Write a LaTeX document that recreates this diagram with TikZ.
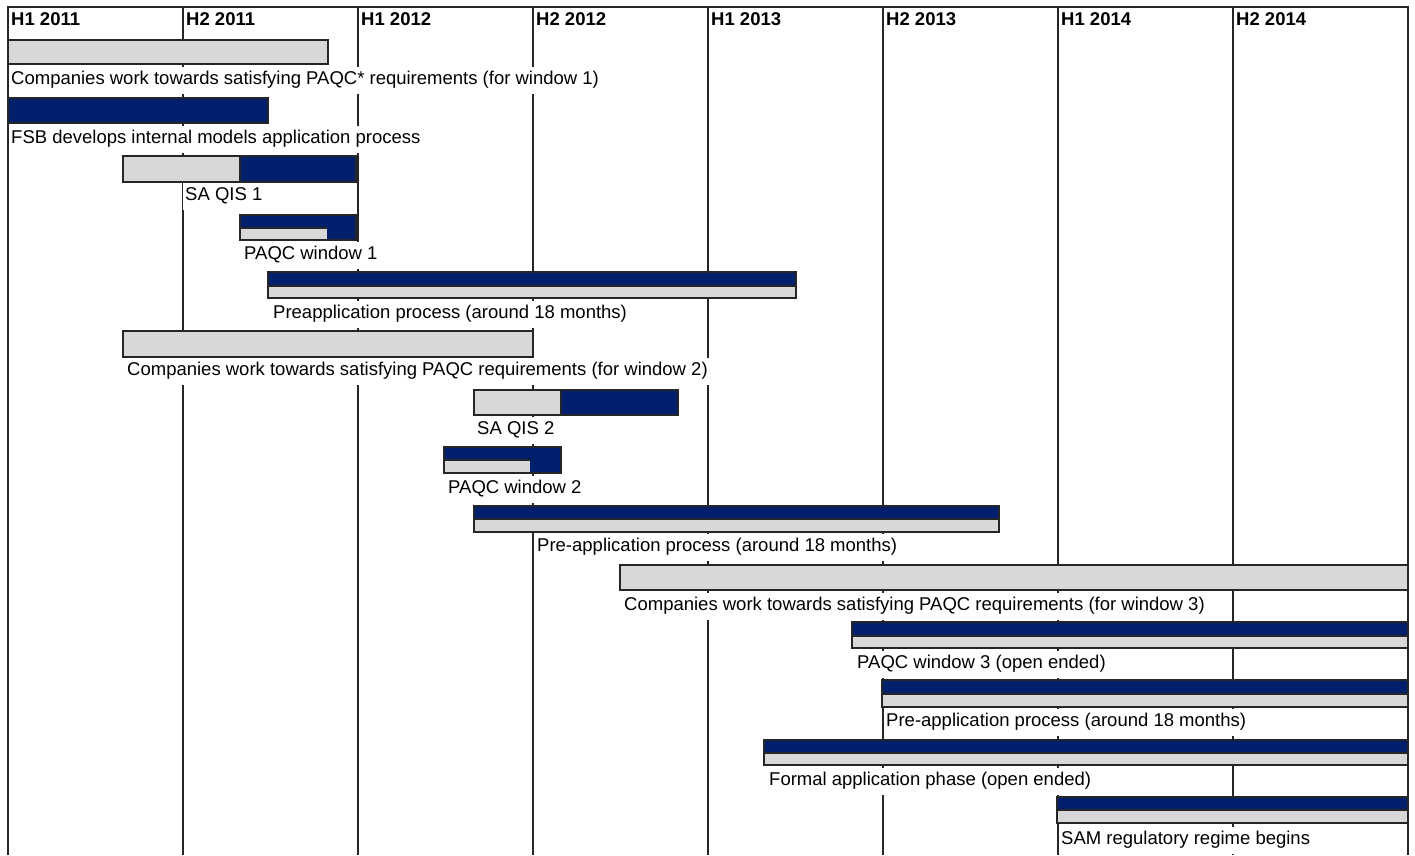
\documentclass[tikz,border=0pt]{standalone}
\usepackage{fontspec}
\setmainfont{Liberation Sans}
\usepackage{xcolor}
\usepackage{tikz}
\definecolor{navy}{RGB}{0,32,110}
\definecolor{lgray}{RGB}{216,216,216}

\begin{document}
\begin{tikzpicture}[
  x=1pt, y=-1pt,
  gline/.style={line width=1.3pt, draw=black!85},
  outl/.style={line width=1.2pt, draw=black!85},
  gbar/.style={fill=lgray},
  bbar/.style={fill=navy},
  lbl/.style={anchor=west, fill=white, inner xsep=2pt, inner ysep=5pt,
              text height=13pt, text depth=4pt, font=\fontsize{18.5}{20}\selectfont},
  hdr/.style={anchor=west, inner sep=0pt, font=\fontsize{18.5}{20}\selectfont\bfseries}
]
  \useasboundingbox (0,0) rectangle (1415,855);
  % Half-year columns and headers
  \draw[gline] (8,855) -- (8,7) -- (1408,7) -- (1408,855);
  \foreach \i/\h in {0/H1 2011, 1/H2 2011, 2/H1 2012, 3/H2 2012,
                     4/H1 2013, 5/H2 2013, 6/H1 2014, 7/H2 2014} {
    \draw[gline] (8+175*\i,7) -- (8+175*\i,855);
    \node[hdr] (h\i) at (11+175*\i,19) {\h};
  }
  % Window 1
  \fill[gbar] (8,40) rectangle (328,64);
  \draw[outl] (8,40) rectangle (328,64);
  \node[lbl] (cw1) at (9,80) {Companies work towards satisfying PAQC* requirements (for window 1)};
  \fill[bbar] (8,98) rectangle (268,123);
  \draw[outl] (8,98) rectangle (268,123);
  \node[lbl] (fsb) at (9,139) {FSB develops internal models application process};
  \fill[gbar] (123,156) rectangle (240,182);
  \fill[bbar] (240,156) rectangle (356,182);
  \draw[outl] (123,156) rectangle (356,182);
  \draw[outl] (240,156) -- (240,182);
  \node[lbl] (qis1) at (183,196) {SA QIS 1};
  \fill[bbar] (240,215) rectangle (356,240);
  \fill[gbar] (240,228) rectangle (327,240);
  \draw[outl] (240,228) -- (327,228);
  \draw[outl] (240,215) rectangle (356,240);
  \node[lbl] (pw1) at (242,255) {PAQC window 1};
  \fill[bbar] (268,272) rectangle (796,286);
  \fill[gbar] (268,286) rectangle (796,298);
  \draw[outl] (268,286) -- (796,286);
  \draw[outl] (268,272) rectangle (796,298);
  \node[lbl] (pre1) at (271,314) {Preapplication process (around 18 months)};
  % Window 2
  \fill[gbar] (123,331) rectangle (533,357);
  \draw[outl] (123,331) rectangle (533,357);
  \node[lbl] (cw2) at (125,371) {Companies work towards satisfying PAQC requirements (for window 2)};
  \fill[gbar] (474,390) rectangle (561,415);
  \fill[bbar] (561,390) rectangle (678,415);
  \draw[outl] (474,390) rectangle (678,415);
  \draw[outl] (561,390) -- (561,415);
  \node[lbl] (qis2) at (475,430) {SA QIS 2};
  \fill[bbar] (444,447) rectangle (561,473);
  \fill[gbar] (444,460) rectangle (530,473);
  \draw[outl] (444,460) -- (530,460);
  \draw[outl] (444,447) rectangle (561,473);
  \node[lbl] (pw2) at (446,489) {PAQC window 2};
  \fill[bbar] (474,506) rectangle (999,519);
  \fill[gbar] (474,519) rectangle (999,532);
  \draw[outl] (474,519) -- (999,519);
  \draw[outl] (474,506) rectangle (999,532);
  \node[lbl] (pre2) at (535,547) {Pre-application process (around 18 months)};
  % Window 3
  \fill[gbar] (620,565) rectangle (1408,590);
  \draw[outl] (620,565) rectangle (1408,590);
  \node[lbl] (cw3) at (622,606) {Companies work towards satisfying PAQC requirements (for window 3)};
  \fill[bbar] (852,622) rectangle (1408,636);
  \fill[gbar] (852,636) rectangle (1408,648);
  \draw[outl] (852,636) -- (1408,636);
  \draw[outl] (852,622) rectangle (1408,648);
  \node[lbl] (pw3) at (855,664) {PAQC window 3 (open ended)};
  \fill[bbar] (882,680) rectangle (1408,694);
  \fill[gbar] (882,694) rectangle (1408,707);
  \draw[outl] (882,694) -- (1408,694);
  \draw[outl] (882,680) rectangle (1408,707);
  \node[lbl] (pre3) at (884,722) {Pre-application process (around 18 months)};
  % Formal application and SAM
  \fill[bbar] (764,740) rectangle (1408,753);
  \fill[gbar] (764,753) rectangle (1408,765);
  \draw[outl] (764,753) -- (1408,753);
  \draw[outl] (764,740) rectangle (1408,765);
  \node[lbl] (fap) at (767,781) {Formal application phase (open ended)};
  \fill[bbar] (1057,797) rectangle (1408,810);
  \fill[gbar] (1057,810) rectangle (1408,823);
  \draw[outl] (1057,810) -- (1408,810);
  \draw[outl] (1057,797) rectangle (1408,823);
  \node[lbl] (sam) at (1059,840) {SAM regulatory regime begins};
\end{tikzpicture}
\end{document}
